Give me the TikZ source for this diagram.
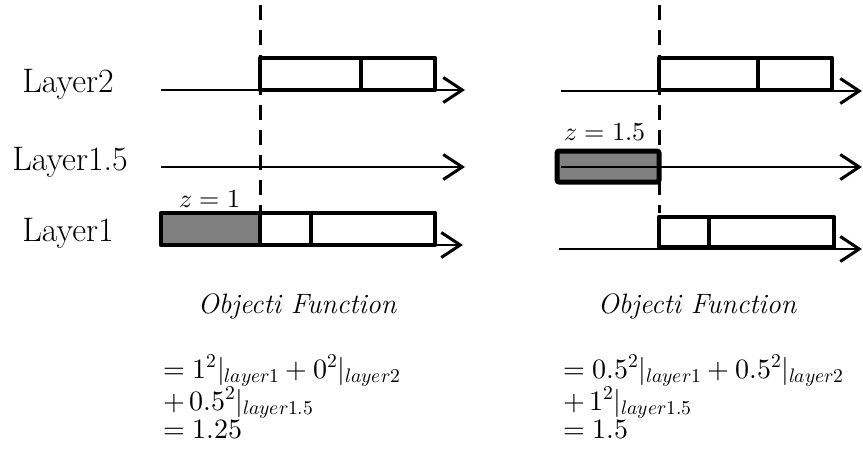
\documentclass[tikz,border=0pt]{standalone}
\usepackage{fontspec}
\usepackage{unicode-math}
\setmathfont{Latin Modern Math}
\usetikzlibrary{arrows.meta}
\newcommand\lsub[1]{\raisebox{-4pt}{$\scriptstyle #1$}}
\newcommand\eqlines[3]{\vtop{\baselineskip=28pt\lineskiplimit=-60pt\lineskip=0pt\hbox{#1}\vskip4pt\hbox{#2}\hbox{#3}}}
\begin{document}
\begin{tikzpicture}[x=1pt,y=-1pt,
  axis/.style={line width=2.4pt,-{Straight Barb[length=19pt,width=25pt,line width=3pt]}},
  seg/.style={line width=4.2pt,line join=round},
  cut/.style={line width=3pt,dash pattern=on 15pt off 10pt},
  lab/.style={font=\fontsize{34}{40}\selectfont,inner sep=0pt},
  zlab/.style={font=\fontsize{26}{30}\selectfont,inner sep=0pt,anchor=base},
  ttl/.style={font=\fontsize{28}{32}\selectfont\itshape,inner sep=0pt,anchor=base},
  txt/.style={font=\fontsize{28}{32}\selectfont,inner sep=0pt,anchor=base west}]
\useasboundingbox (0,0) rectangle (863,452);

% ---------------- left panel ----------------
\node[lab] (L2) at (68,84) {Layer2};
\node[lab] (L15) at (70,162) {Layer1.5};
\node[lab] (L1) at (68,233) {Layer1};

\coordinate (a2s) at (161,90);  \coordinate (a2e) at (465,90);
\coordinate (a15s) at (161,167); \coordinate (a15e) at (465,167);
\coordinate (a1s) at (300,245); \coordinate (a1e) at (463,245);

\draw[axis] (a2s) -- (a2e);
\draw[axis] (a15s) -- (a15e);
\draw[axis] (a1s) -- (a1e);

\fill[gray] (161,213) rectangle (260,245);
\draw[seg] (260,58) rectangle (435,90);
\draw[seg] (361,58) -- (361,90);
\draw[seg] (161,213) rectangle (435,245);
\draw[seg] (260,213) -- (260,245);
\draw[seg] (311,213) -- (311,245);

\draw[cut] (260,5) -- (260,213);
\node[zlab] (z1) at (210,207) {$z=1$};

\node[ttl] (of1) at (297,313) {Objecti Function};
\node[txt] (e1) at (163,378) {\eqlines{$=1^2|\lsub{layer1}+0^2|\lsub{layer2}$}{$+\,0.5^2|\lsub{layer1.5}$}{$=1.25$}};

% ---------------- right panel ----------------
\coordinate (b2s) at (561,91);  \coordinate (b2e) at (862,91);
\coordinate (b15s) at (561,167); \coordinate (b15e) at (862,167);
\coordinate (b1s) at (559,249); \coordinate (b1e) at (862,249);

\fill[gray] (557,151) rectangle (659,182);
\draw[seg,line width=5pt,rounded corners=1.5pt] (557,151) rectangle (659,182);

\draw[axis] (b2s) -- (b2e);
\draw[axis] (b15s) -- (b15e);
\draw[axis] (b1s) -- (b1e);

\draw[seg] (659,58) rectangle (832,90);
\draw[seg] (758,58) -- (758,90);
\draw[seg] (659,217) rectangle (834,247);
\draw[seg] (709,217) -- (709,247);

\draw[cut] (659,5) -- (659,213);
\node[zlab] (z15) at (605,140) {$z=1.5$};

\node[ttl] (of2) at (697,313) {Objecti Function};
\node[txt] (e2) at (563,378) {\eqlines{$=0.5^2|\lsub{layer1}+0.5^2|\lsub{layer2}$}{$+\,1^2|\lsub{layer1.5}$}{$=1.5$}};
\end{tikzpicture}
\end{document}
